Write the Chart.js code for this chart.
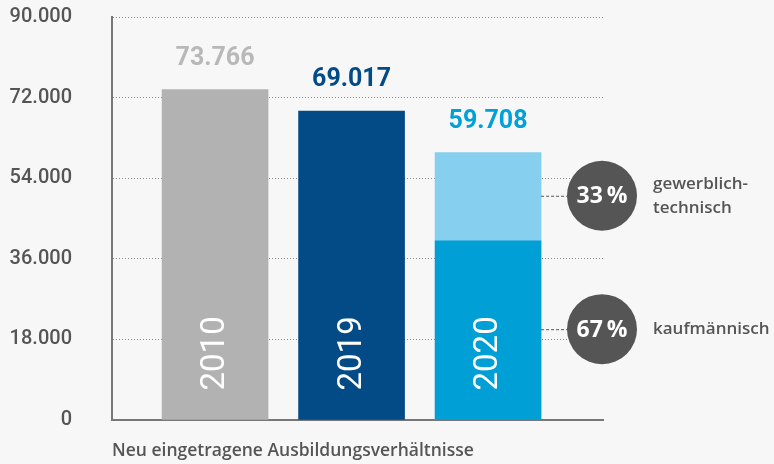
<!DOCTYPE html>
<html lang="de">
<head>
<meta charset="utf-8">
<title>Neu eingetragene Ausbildungsverhältnisse</title>
<script src="https://cdn.jsdelivr.net/npm/chart.js@4"></script>
<style>
  html, body { margin: 0; padding: 0; background: #f7f7f7; }
  canvas { display: block; }
</style>
</head>
<body>
<canvas id="chartCanvas" width="774" height="464"></canvas>
<script>
// Daten
var categories = ["2010", "2019", "2020"];
var kaufmValues = [73766, 69017, 40004];      // 2020: kaufmännisch
var gewerblValues = [null, null, 19704];      // 2020: gewerblich-technisch
var yTicks = [0, 18000, 36000, 54000, 72000, 90000];
var shareNames = [["gewerblich-", "technisch"], ["kaufmännisch"]];

var barColors = ["#b2b2b2", "#024b87", "#009fd6"];
var upperColor = "#87cfee";
var labelColors = ["#b8b8b8", "#024b87", "#00a0d8"];
var grey = "#555555";

function formatNumber(n) {
    return String(n).replace(/\B(?=(\d{3})+(?!\d))/g, ".");
}

var totals = [];
for (var i = 0; i < categories.length; i++) {
    totals.push(kaufmValues[i] + (gewerblValues[i] || 0));
}

var annotations = {
    id: "annotations",
    afterDraw: function (chart) {
        var ctx = chart.ctx;
        var lower = chart.getDatasetMeta(0).data;
        var upper = chart.getDatasetMeta(1).data;
        var area = chart.chartArea;
        ctx.save();

        for (var i = 0; i < lower.length; i++) {
            var bar = lower[i];
            var top = gewerblValues[i] ? upper[i].y : bar.y;

            // Summenwert über dem Balken
            ctx.font = "bold 25px Roboto";
            ctx.fillStyle = labelColors[i];
            ctx.textAlign = "center";
            ctx.textBaseline = "middle";
            ctx.fillText(formatNumber(totals[i]), bar.x, top - 31);

            // Jahr, gedreht im Balken
            ctx.save();
            ctx.translate(bar.x + 1, bar.base - 29);
            ctx.rotate(-Math.PI / 2);
            ctx.font = "33px Roboto";
            ctx.fillStyle = "#ffffff";
            ctx.textAlign = "left";
            ctx.textBaseline = "middle";
            ctx.fillText(categories[i], 0, 0);
            ctx.restore();
        }

        // Anteile 2020
        var last = categories.length - 1;
        var segs = [upper[last], lower[last]];
        var vals = [gewerblValues[last], kaufmValues[last]];
        var cx = area.right - 1;
        var r = 35;
        for (var s = 0; s < segs.length; s++) {
            var seg = segs[s];
            var my = (seg.y + seg.base) / 2 - 1;
            var pct = Math.round(vals[s] / totals[last] * 100);

            ctx.strokeStyle = grey;
            ctx.lineWidth = 1;
            ctx.setLineDash([3, 2]);
            ctx.beginPath();
            ctx.moveTo(seg.x + seg.width / 2, my + 0.5);
            ctx.lineTo(cx - r, my + 0.5);
            ctx.stroke();
            ctx.setLineDash([]);

            ctx.fillStyle = grey;
            ctx.beginPath();
            ctx.arc(cx, my, r, 0, Math.PI * 2);
            ctx.fill();

            ctx.font = "bold 23px 'Open Sans'";
            ctx.fillStyle = "#ffffff";
            ctx.textAlign = "center";
            ctx.textBaseline = "middle";
            ctx.fillText(pct + "\u2009%", cx, my + 1);

            ctx.font = "600 17px 'Open Sans'";
            ctx.fillStyle = grey;
            ctx.textAlign = "left";
            var lines = shareNames[s];
            var y0 = my - (lines.length - 1) * 12;
            for (var l = 0; l < lines.length; l++) {
                ctx.fillText(lines[l], cx + 51, y0 + l * 24);
            }
        }
        ctx.restore();
    }
};

function toPoints(values) {
    var pts = [];
    for (var i = 0; i < values.length; i++) {
        pts.push({ x: i, y: values[i] });
    }
    return pts;
}

var ctx = document.getElementById("chartCanvas").getContext("2d");
new Chart(ctx, {
    type: "bar",
    data: {
        datasets: [{
            label: "kaufmännisch",
            data: toPoints(kaufmValues),
            backgroundColor: barColors,
            barThickness: 106
        }, {
            label: "gewerblich-technisch",
            data: toPoints(gewerblValues),
            backgroundColor: upperColor,
            barThickness: 106
        }]
    },
    options: {
        responsive: false,
        animation: false,
        layout: { padding: { left: 10, right: 171, top: 0, bottom: 0 } },
        plugins: {
            legend: { display: false },
            tooltip: { enabled: false }
        },
        scales: {
            x: {
                type: "linear",
                stacked: true,
                offset: false,
                min: -0.755,
                max: 2.842,
                afterFit: function (scale) { scale.height = 44; },
                grid: { display: false },
                border: { display: true, color: "#777777", width: 2 },
                ticks: { display: false },
                title: {
                    display: true,
                    text: "Neu eingetragene Ausbildungsverhältnisse",
                    align: "start",
                    color: grey,
                    font: { family: "'Open Sans'", size: 17.5, weight: "600" },
                    padding: { top: 22, bottom: 2 }
                }
            },
            y: {
                stacked: true,
                min: 0,
                max: 90000,
                z: 1,
                afterBuildTicks: function (scale) {
                    scale.ticks = yTicks.map(function (v) { return { value: v }; });
                },
                afterFit: function (scale) {
                    scale.width = 102;
                    scale.paddingTop = 17;
                    scale.paddingBottom = 12;
                },
                grid: { color: "#8a8a8a", lineWidth: 1, drawTicks: false },
                border: { display: true, color: "#777777", width: 2, dash: [1, 2] },
                ticks: {
                    padding: 40,
                    color: grey,
                    font: { family: "Roboto", size: 20, weight: "500" },
                    callback: function (v) { return formatNumber(v); }
                }
            }
        }
    },
    plugins: [annotations]
});
</script>
</body>
</html>
